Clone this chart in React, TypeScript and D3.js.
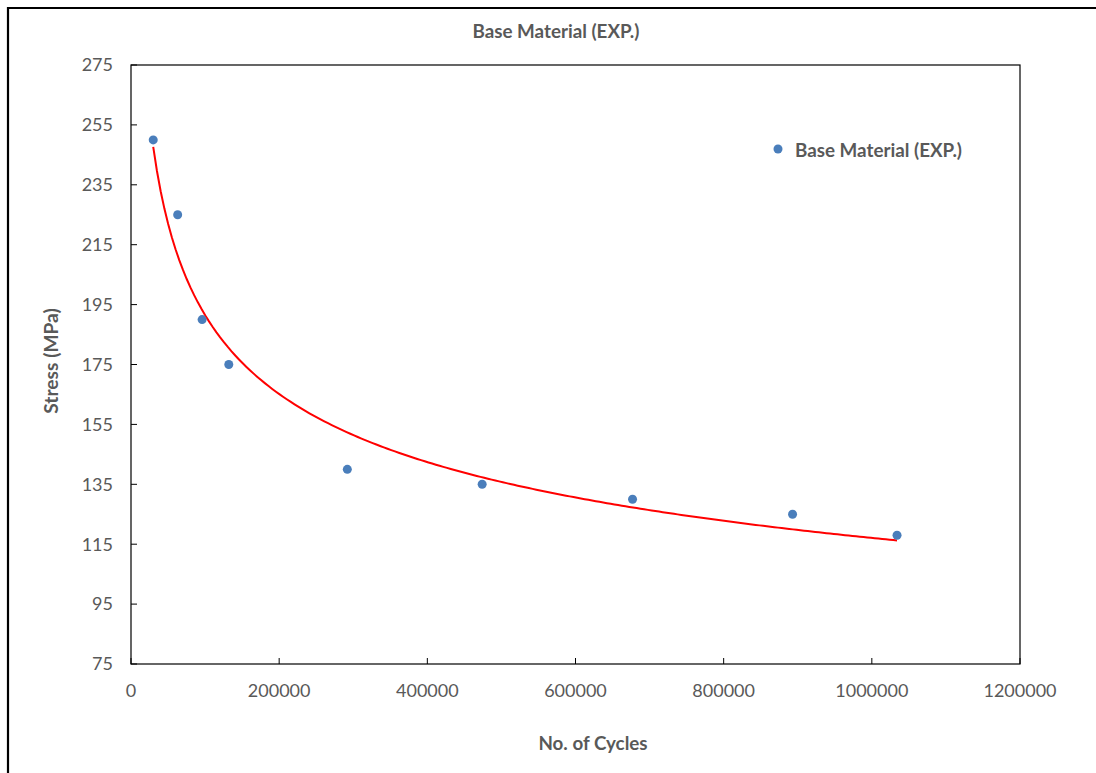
import React from "react";
import * as d3 from "d3";

// Fatigue test results for the base material
const cycles = [30000, 63000, 96000, 132000, 292000, 474000, 677000, 893000, 1034000];
const stress = [250, 225, 190, 175, 140, 135, 130, 125, 118];

const xTicks = [0, 200000, 400000, 600000, 800000, 1000000, 1200000];
const yTicks = [75, 95, 115, 135, 155, 175, 195, 215, 235, 255, 275];

const seriesName = "Base Material (EXP.)";
const chartTitle = "Base Material (EXP.)";
const xTitle = "No. of Cycles";
const yTitle = "Stress (MPa)";

const W = 1096;
const H = 773;
const plot = { left: 131, top: 65, right: 1020, bottom: 664 };
const FONT = "Lato, 'Open Sans', sans-serif";
const TEXT = "#595959";
const BLUE = "#4A7EBB";

// Power-law trendline y = a * x^b, fitted in log-log space
function powerFit(xs: number[], ys: number[]) {
  const lx = xs.map(Math.log);
  const ly = ys.map(Math.log);
  const mx = d3.mean(lx)!;
  const my = d3.mean(ly)!;
  let num = 0;
  let den = 0;
  lx.forEach((v, i) => {
    num += (v - mx) * (ly[i] - my);
    den += (v - mx) * (v - mx);
  });
  const b = num / den;
  const a = Math.exp(my - b * mx);
  return (x: number) => a * Math.pow(x, b);
}

export default function App() {
  const x = d3.scaleLinear().domain([0, 1200000]).range([plot.left, plot.right]);
  const y = d3.scaleLinear().domain([75, 275]).range([plot.bottom, plot.top]);

  const fit = powerFit(cycles, stress);
  const x0 = d3.min(cycles)!;
  const x1 = d3.max(cycles)!;
  const trendPts = d3.range(0, 201).map((i) => {
    const xv = x0 + ((x1 - x0) * i) / 200;
    return [xv, fit(xv)] as [number, number];
  });
  const line = d3
    .line<[number, number]>()
    .x((d) => x(d[0]))
    .y((d) => y(d[1]));

  return (
    <svg
      width={W}
      height={H}
      style={{ position: "absolute", left: 0, top: 0, background: "#fff" }}
    >
      {/* chart border */}
      <line x1={8} y1={8} x2={W} y2={8} stroke="#000" strokeWidth={2.2} />
      <line x1={8} y1={7} x2={8} y2={H} stroke="#000" strokeWidth={2.2} />

      {/* title */}
      <text
        x={556}
        y={38}
        textAnchor="middle"
        fontFamily={FONT}
        fontWeight="bold"
        fontSize={18.8}
        fill={TEXT}
      >
        {chartTitle}
      </text>

      {/* plot frame */}
      <rect
        x={plot.left}
        y={plot.top}
        width={plot.right - plot.left}
        height={plot.bottom - plot.top}
        fill="none"
        stroke="#000"
        strokeWidth={1.2}
      />

      {/* y ticks and labels */}
      {yTicks.map((t) => (
        <g key={"y" + t}>
          <line x1={plot.left} x2={plot.left + 6} y1={y(t)} y2={y(t)} stroke="#000" strokeWidth={1} />
          <text
            x={113}
            y={y(t)}
            dy="0.35em"
            textAnchor="end"
            fontFamily={FONT}
            fontSize={18}
            fill={TEXT}
          >
            {t}
          </text>
        </g>
      ))}

      {/* x ticks and labels */}
      {xTicks.map((t) => (
        <g key={"x" + t}>
          <line x1={x(t)} x2={x(t)} y1={plot.bottom} y2={plot.bottom - 6} stroke="#000" strokeWidth={1} />
          <text
            x={x(t)}
            y={697}
            textAnchor="middle"
            fontFamily={FONT}
            fontSize={18}
            fill={TEXT}
          >
            {t}
          </text>
        </g>
      ))}

      {/* axis titles */}
      <text
        x={593}
        y={750}
        textAnchor="middle"
        fontFamily={FONT}
        fontWeight="bold"
        fontSize={18.8}
        fill={TEXT}
      >
        {xTitle}
      </text>
      <text
        transform={`translate(58,361) rotate(-90)`}
        textAnchor="middle"
        fontFamily={FONT}
        fontWeight="bold"
        fontSize={19.2}
        fill={TEXT}
      >
        {yTitle}
      </text>

      {/* trendline */}
      <path d={line(trendPts) || ""} fill="none" stroke="#FF0000" strokeWidth={2} />

      {/* data points */}
      {cycles.map((c, i) => (
        <circle key={"p" + i} cx={x(c)} cy={y(stress[i])} r={4.5} fill={BLUE} />
      ))}

      {/* legend */}
      <circle cx={778} cy={149} r={4.5} fill={BLUE} />
      <text
        x={795}
        y={157}
        fontFamily={FONT}
        fontWeight="bold"
        fontSize={18.8}
        fill={TEXT}
      >
        {seriesName}
      </text>
    </svg>
  );
}
